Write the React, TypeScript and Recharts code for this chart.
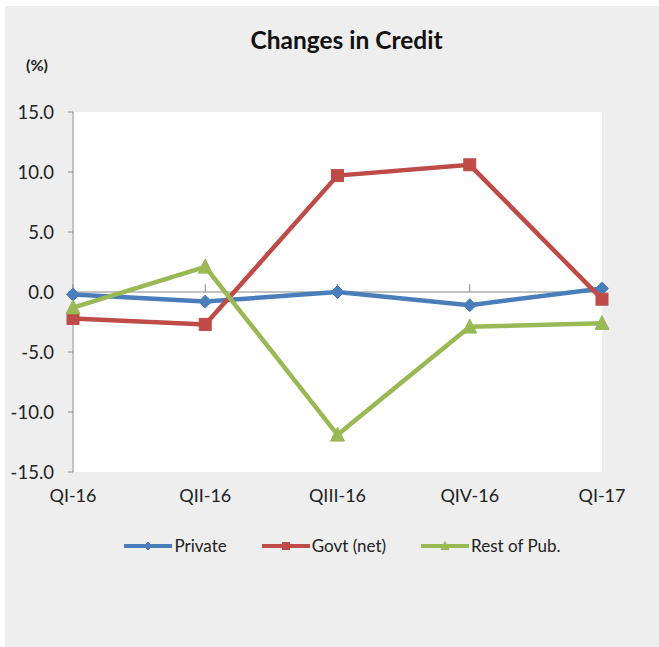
import React from 'react';
import { LineChart, Line, XAxis, YAxis, ReferenceLine, Legend } from 'recharts';

const categories = ['QI-16', 'QII-16', 'QIII-16', 'QIV-16', 'QI-17'];
const privateVals = [-0.2, -0.8, 0.0, -1.1, 0.3];
const govtVals = [-2.2, -2.7, 9.7, 10.6, -0.6];
const restVals = [-1.3, 2.1, -11.9, -2.9, -2.6];
const yTicks = [-15, -10, -5, 0, 5, 10, 15];
const seriesOrder = ['priv', 'govt', 'rest'];

const data = categories.map((c, i) => ({
  cat: c,
  priv: privateVals[i],
  govt: govtVals[i],
  rest: restVals[i],
}));

const BLUE = '#4a7ebb';
const RED = '#be4b48';
const GREEN = '#98b954';
const AXIS = '#868686';
const FONT = 'Lato, "Open Sans", sans-serif';

const Diamond = ({ cx, cy, color, r = 6.5 }: any) => (
  <path d={`M${cx},${cy - r} L${cx + r},${cy} L${cx},${cy + r} L${cx - r},${cy} Z`} fill={color} stroke={color} strokeWidth={1} />
);
const Square = ({ cx, cy, color, s = 12 }: any) => (
  <rect x={cx - s / 2} y={cy - s / 2} width={s} height={s} fill={color} stroke={color} strokeWidth={1} />
);
const Triangle = ({ cx, cy, color, s = 14 }: any) => (
  <path d={`M${cx},${cy - s * 0.55} L${cx + s / 2},${cy + s * 0.45} L${cx - s / 2},${cy + s * 0.45} Z`} fill={color} stroke={color} strokeWidth={1} />
);

const shapeFor = (key: string, cx: number, cy: number, k?: any) => {
  if (key === 'priv') return <Diamond key={k} cx={cx} cy={cy} color={BLUE} />;
  if (key === 'govt') return <Square key={k} cx={cx} cy={cy} color={RED} />;
  return <Triangle key={k} cx={cx} cy={cy} color={GREEN} />;
};

const renderLegend = (props: any) => {
  const payload = [...(props.payload || [])].sort(
    (a: any, b: any) => seriesOrder.indexOf(a.dataKey) - seriesOrder.indexOf(b.dataKey)
  );
  return (
    <div style={{ display: 'flex', justifyContent: 'center', alignItems: 'center', fontFamily: FONT, fontSize: 17, color: '#222', paddingLeft: 26, boxSizing: 'border-box' }}>
      {payload.map((entry: any, i: number) => (
        <div key={`l-${i}`} style={{ display: 'flex', alignItems: 'center', marginRight: i < payload.length - 1 ? 35 : 0 }}>
          <svg width={48} height={14} style={{ marginRight: 2 }}>
            <line x1={0} y1={7} x2={48} y2={7} stroke={entry.color} strokeWidth={4} />
            {entry.dataKey === 'priv' && <Diamond cx={24} cy={7} color={entry.color} r={4} />}
            {entry.dataKey === 'govt' && <Square cx={24} cy={7} color={entry.color} s={7} />}
            {entry.dataKey === 'rest' && <Triangle cx={24} cy={7} color={entry.color} s={8} />}
          </svg>
          <span>{entry.value}</span>
        </div>
      ))}
    </div>
  );
};

export default function App() {
  return (
    <div style={{ position: 'absolute', left: 0, top: 0, width: 659, height: 647, background: '#ffffff' }}>
      <div style={{ position: 'absolute', left: 5, top: 6, width: 654, height: 641, background: '#eeeeee' }} />
      <div style={{ position: 'absolute', left: 72, top: 112, width: 530, height: 360, background: '#ffffff' }} />
      <div style={{ position: 'absolute', left: 0, width: 659, top: 25, textAlign: 'center', paddingLeft: 34, boxSizing: 'border-box', fontFamily: FONT, fontWeight: 700, fontSize: 24.5, color: '#111' }}>
        Changes in Credit
      </div>
      <div style={{ position: 'absolute', left: 26, top: 55, fontFamily: FONT, fontSize: 16, fontWeight: 700, color: '#222' }}>(%)</div>
      <div style={{ position: 'absolute', left: 0, top: 0 }}>
        <LineChart width={659} height={647} data={data} margin={{ top: 112, right: 57, bottom: 145, left: 0 }}>
          <XAxis
            dataKey="cat"
            scale="point"
            padding={{ left: 0, right: 0 }}
            axisLine={false}
            tickLine={false}
            height={30}
            tickMargin={11}
            tick={{ fill: '#222', fontSize: 18, fontFamily: FONT }}
            interval={0}
          />
          <YAxis
            domain={[-15, 15]}
            ticks={yTicks}
            width={73}
            tickFormatter={(v: number) => v.toFixed(1)}
            axisLine={{ stroke: AXIS }}
            tickLine={{ stroke: AXIS }}
            tickSize={5}
            tickMargin={14}
            tick={{ fill: '#222', fontSize: 18.5, fontFamily: FONT }}
            interval={0}
          />
          <ReferenceLine y={0} stroke={AXIS} strokeWidth={1} />
          {categories.map((c) => (
            <ReferenceLine key={`t-${c}`} segment={[{ x: c, y: 0 }, { x: c, y: 0.65 }]} stroke={AXIS} strokeWidth={1} />
          ))}
          <Line type="linear" dataKey="priv" name="Private" stroke={BLUE} strokeWidth={4.5} isAnimationActive={false}
            dot={(p: any) => shapeFor('priv', p.cx, p.cy, `p-${p.index}`)} activeDot={false} />
          <Line type="linear" dataKey="govt" name="Govt (net)" stroke={RED} strokeWidth={4.5} isAnimationActive={false}
            dot={(p: any) => shapeFor('govt', p.cx, p.cy, `g-${p.index}`)} activeDot={false} />
          <Line type="linear" dataKey="rest" name="Rest of Pub." stroke={GREEN} strokeWidth={4.5} isAnimationActive={false}
            dot={(p: any) => shapeFor('rest', p.cx, p.cy, `r-${p.index}`)} activeDot={false} />
          <Legend verticalAlign="middle" align="center" layout="horizontal" content={renderLegend}
            wrapperStyle={{ position: 'absolute', top: 535, left: 0, width: 659 }} />
        </LineChart>
      </div>
    </div>
  );
}
